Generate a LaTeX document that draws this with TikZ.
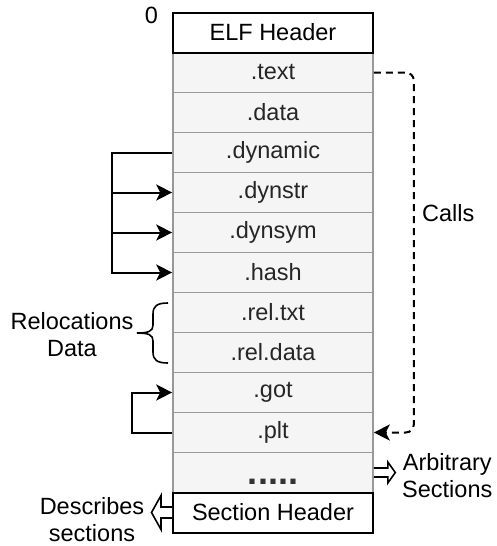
\documentclass[tikz,border=0pt]{standalone}
\usepackage{fontspec}
\setmainfont{Liberation Sans}
\usetikzlibrary{arrows.meta}
\definecolor{rowfill}{HTML}{F5F5F5}
\definecolor{rowline}{HTML}{999999}
\definecolor{rowtext}{HTML}{262626}
\definecolor{dotgray}{HTML}{333333}

\begin{document}
\begin{tikzpicture}[x=1pt,y=-1pt,
  txt/.style={font=\fontsize{23.5}{27}\selectfont},
  sect/.style={txt, text=rowtext, draw=rowline, line width=1.6pt, fill=rowfill,
    minimum width=200pt, minimum height=40pt, inner sep=0pt},
  hdr/.style={sect, text=black, draw=black, fill=white, line width=2pt},
  lbl/.style={txt, align=center, inner sep=0pt},
  solidlink/.style={line width=2pt},
  tip/.style={-{Stealth[length=16pt,width=16pt,inset=4pt]}},
  calls/.style={line width=2pt, dash pattern=on 7pt off 5pt,
    rounded corners=8pt},
  hollow/.style={draw=black, fill=white, line width=1.6pt, line join=miter},
]
\useasboundingbox (0,0) rectangle (496,546);

% section table
\node[sect] (text)    at (273,72.5)  {.text};
\node[sect] (data)    at (273,112.5) {.data};
\node[sect] (dyn)     at (273,152.5) {.dynamic};
\node[sect] (dynstr)  at (273,192.5) {.dynstr};
\node[sect] (dynsym)  at (273,232.5) {.dynsym};
\node[sect] (hash)    at (273,272.5) {.hash};
\node[sect] (reltxt)  at (273,312.5) {.rel.txt};
\node[sect] (reldata) at (273,352.5) {.rel.data};
\node[sect] (got)     at (273,392.5) {.got};
\node[sect] (plt)     at (273,432.5) {.plt};
\node[sect] (dots) at (273,472.5) {};
\node[text=dotgray, font=\fontsize{36}{36}\selectfont\bfseries, anchor=base, inner sep=0pt]
  (dotstext) at (273,484) {.....};
\node[hdr] (elf) at (273,32.5)  {ELF Header};
\node[hdr] (sh)  at (273,512.5) {Section Header};

% offset zero
\node[lbl] (zero) at (151.5,15) {0};

% .dynamic refers to the string, symbol and hash tables
\draw[solidlink, tip] (dyn.west) -- ++(-60,0) coordinate (bus) |- (hash.west);
\draw[solidlink, tip] (bus |- dynstr.west) -- (dynstr.west);
\draw[solidlink, tip] (bus |- dynsym.west) -- (dynsym.west);

% .plt goes through .got
\draw[solidlink, tip] (plt.west) -- ++(-40,0) |- (got.west);

% .text calls into .plt
\draw[calls, tip] (text.east) -- ++(40,0) coordinate (callsbend) |- (plt.east);
\node[lbl, anchor=west] (callslbl) at (422,213) {Calls};

% relocation brace
\draw[line width=1.6pt] (168,303) .. controls (157,303) and (153,306) .. (153,314)
  -- (153,325) .. controls (153,331) and (149,333) .. (137,333)
  .. controls (149,333) and (153,335) .. (153,341)
  -- (153,352) .. controls (153,360) and (157,363) .. (168,363);
\node[lbl] (reloc) at (72,334.5) {Relocations\\Data};

% hollow arrows
\begin{scope}[shift={(sh.west)}]
  \draw[hollow] (0,-5.5) -- (-11,-5.5) -- (-11,-17) -- (-20.5,0)
    -- (-11,17) -- (-11,5.5) -- (0,5.5);
\end{scope}
\node[lbl] (descr) at (92,519.5) {Describes\\sections};

\begin{scope}[shift={(dots.east)}]
  \draw[hollow] (0,-4.5) -- (14,-4.5) -- (14,-10.5) -- (21.5,0)
    -- (14,10.5) -- (14,4.5) -- (0,4.5);
\end{scope}
\node[lbl, anchor=west] (arb) at (402,476) {Arbitrary\\Sections};
\end{tikzpicture}
\end{document}
